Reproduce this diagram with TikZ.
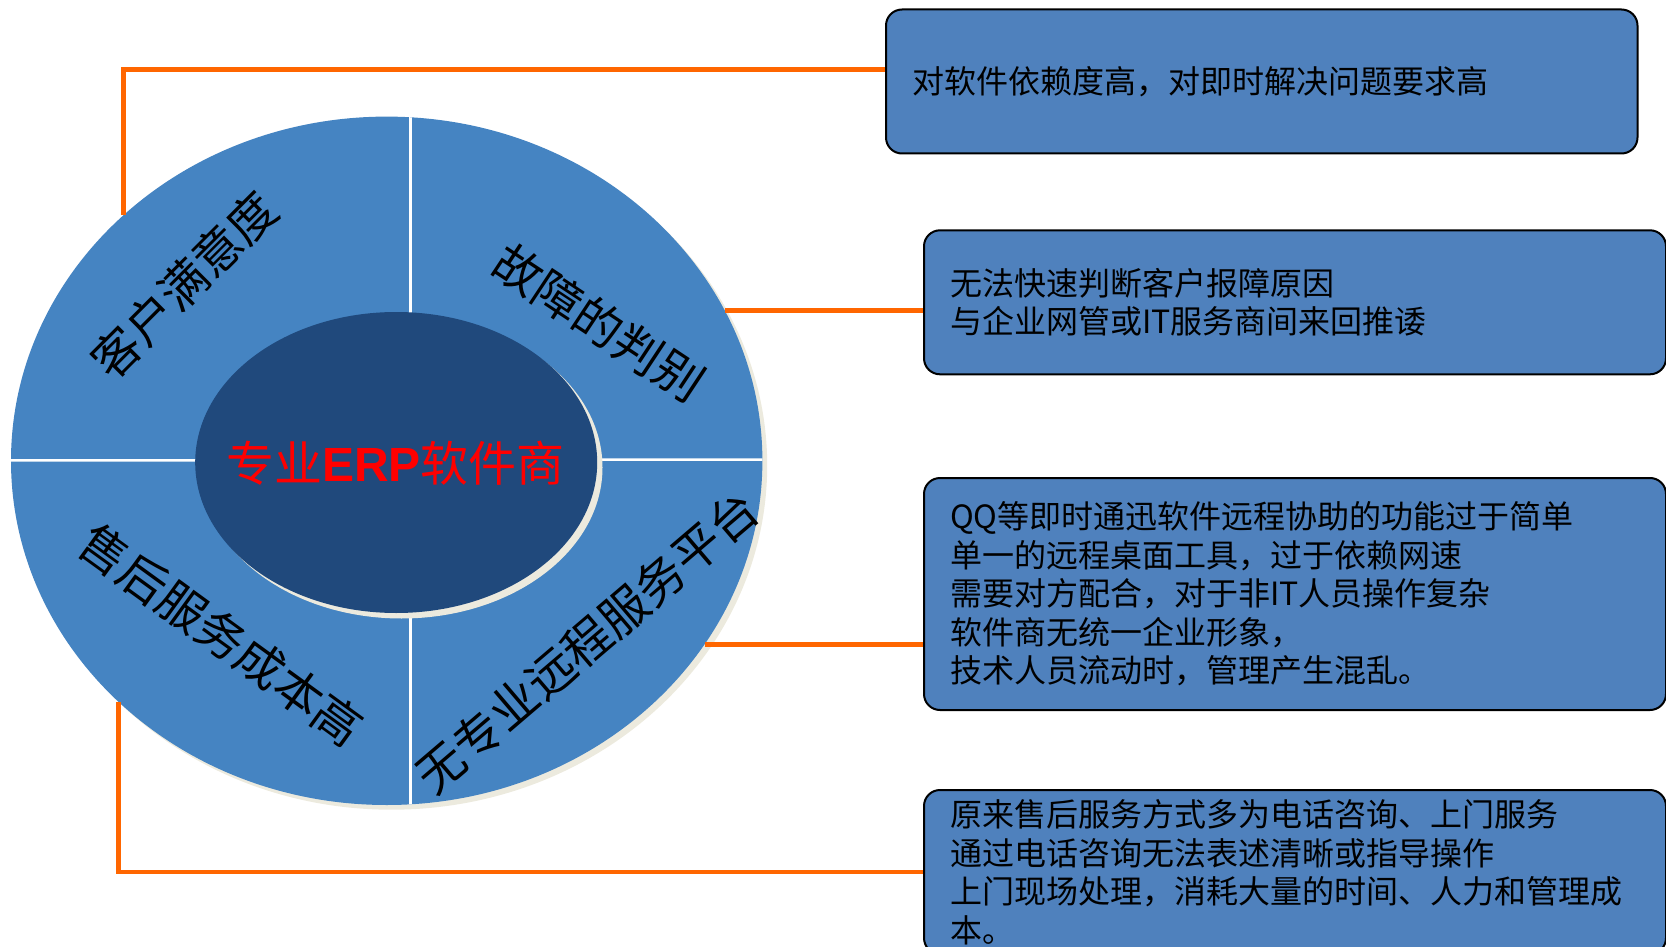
\documentclass[tikz,border=0pt]{standalone}
\usepackage{fontspec}
\setmainfont{Liberation Sans}
\newfontfamily\cjk{Noto Sans CJK SC}
\usetikzlibrary{shapes.geometric}
\definecolor{ringblue}{RGB}{69,132,194}
\definecolor{darkblue}{RGB}{32,73,124}
\definecolor{rim}{RGB}{236,234,222}
\definecolor{boxblue}{RGB}{79,129,189}
\definecolor{connorange}{RGB}{255,102,0}
\begin{document}
\begin{tikzpicture}[x=1pt,y=-1pt,
  ringlabel/.style={font=\cjk\fontsize{48}{52}\selectfont, inner sep=0pt, text=black},
  infobox/.style={draw=black, line width=2pt, fill=boxblue, rounded corners=16pt,
    anchor=north west, inner xsep=26pt, inner ysep=0pt, align=left,
    font=\cjk\fontsize{32}{38.5}\selectfont, text=black},
  connector/.style={draw=connorange, line width=4.5pt},
  divider/.style={draw=white, line width=2.5pt},
]
\useasboundingbox (0,0) rectangle (1666,947);
\clip (0,0) rectangle (1666,947);

% outer ring
\fill[rim] (391.5,465.5) ellipse [x radius=375.7pt, y radius=344.2pt];
\node[ellipse, fill=ringblue, minimum width=751.4pt, minimum height=688.4pt, inner sep=0pt] (outer) at (386.7,460.8) {};
\begin{scope}
  \clip (386.7,460.8) ellipse [x radius=375.7pt, y radius=344.2pt];
  \draw[divider] (0,460.5) -- (780,459.5);
  \draw[divider] (410.5,100) -- (410.5,820);
\end{scope}

% inner ellipse
\fill[rim] (401.5,467.5) ellipse [x radius=201pt, y radius=151pt];
\node[ellipse, fill=darkblue, minimum width=402pt, minimum height=301pt, inner sep=0pt] (inner) at (396.2,462.5) {};
\node[text=red, font=\fontsize{48}{52}\selectfont, inner sep=0pt] (title) at (395.5,463)
  {{\cjk 专业}\textbf{ERP}{\cjk 软件商}};

% ring labels
\node[ringlabel, rotate=45] (lab1) at (184,285) {客户满意度};
\node[ringlabel, rotate=-33.5] (lab2) at (599,323) {故障的判别};
\node[ringlabel, rotate=-36] (lab3) at (221.5,635) {售后服务成本高};
\node[ringlabel, rotate=40.5] (lab4) at (587,642) {无专业远程服务平台};

% boxes
\node[infobox, text width=699.5pt, minimum height=144pt] (box1) at (885,8.5)
  {对软件依赖度高，对即时解决问题要求高};
\node[infobox, text width=690pt, minimum height=144pt] (box2) at (923,229.3)
  {无法快速判断客户报障原因\\与企业网管或IT服务商间来回推诿};
\node[infobox, text width=690pt, minimum height=232pt] (box3) at (923,477)
  {QQ等即时通迅软件远程协助的功能过于简单\\单一的远程桌面工具，过于依赖网速\\需要对方配合，对于非IT人员操作复杂\\软件商无统一企业形象，\\技术人员流动时，管理产生混乱。};
\node[infobox, text width=690pt, minimum height=164pt] (box4) at (923,789)
  {原来售后服务方式多为电话咨询、上门服务\\通过电话咨询无法表述清晰或指导操作\\上门现场处理，消耗大量的时间、人力和管理成\\本。};

% connectors
\draw[connector] (outer.137.6) |- ([yshift=12pt]box1.west);
\draw[connector] (outer.24.2) -- (outer.24.2 -| box2.west);
\draw[connector] (outer.-30.2) -- (outer.-30.2 -| box3.west);
\draw[connector] (outer.222.4) |- (box4.west);
\end{tikzpicture}
\end{document}
